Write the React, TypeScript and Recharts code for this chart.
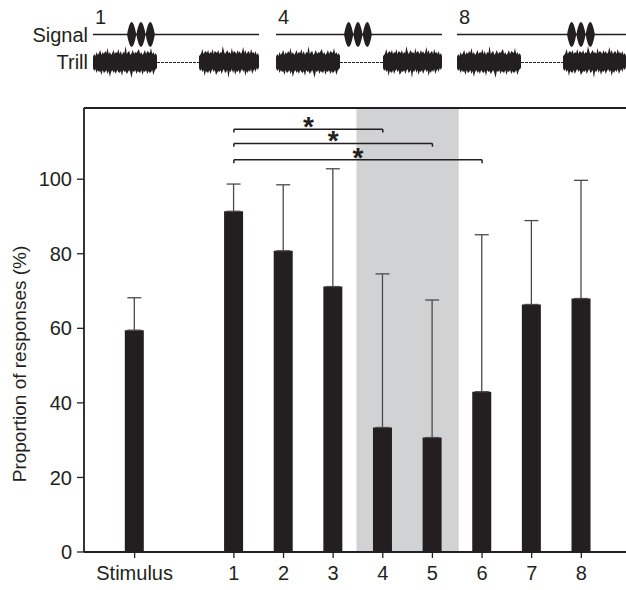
import React from "react";
import {
  BarChart, Bar, XAxis, YAxis, ErrorBar, ReferenceArea, ReferenceLine,
} from "recharts";

// stimulus slots along the x axis ("" is the empty gap after Stimulus)
const categories = ["Stimulus", "", "1", "2", "3", "4", "5", "6", "7", "8"];
const meanResponse = [59.5, null, 91.4, 80.8, 71.2, 33.4, 30.7, 43.0, 66.4, 68.0];
const sdResponse = [8.7, null, 7.3, 17.7, 31.6, 41.2, 36.9, 42.1, 22.5, 31.7];
const yTicks = [0, 20, 40, 60, 80, 100];

// significant pairwise comparisons (bracket height in % units)
const comparisons = [
  { from: "1", to: "4", level: 113.4 },
  { from: "1", to: "5", level: 109.6 },
  { from: "1", to: "6", level: 105.2 },
];
const shadedFrom = "4";
const shadedTo = "5";
const yMax = 119.1;

// hand-read trill envelope (px above / below the centre line)
const trillUpper = [5, 8, 6, 10, 7, 9, 12, 7, 10, 8, 11, 9, 14, 8, 10, 7, 9, 12, 8, 10, 9, 13, 8, 11, 7, 10, 9, 16, 8, 10, 11, 7, 9, 12, 8, 10, 9, 11, 13, 8, 10, 7, 9, 12, 8, 11, 10, 9, 14, 8, 10, 7, 9, 6];
const trillLower = [6, 9, 7, 11, 8, 10, 9, 13, 8, 11, 10, 8, 12, 9, 15, 10, 8, 11, 9, 12, 8, 10, 11, 9, 14, 8, 10, 9, 12, 10, 8, 11, 16, 9, 10, 8, 12, 9, 10, 11, 8, 13, 9, 10, 8, 12, 9, 11, 10, 8, 13, 9, 7, 6];

const INK = "#231f20";

const data = categories
  .map((name, i) => ({
    x: i,
    name,
    mean: meanResponse[i],
    err: sdResponse[i] == null ? null : [0, sdResponse[i]],
  }))
  .filter((d) => d.mean != null);

const xOf = (name: string) => categories.indexOf(name);

const panels = [
  { label: "1", x0: 93, x1: 259, pulse: 127, gap0: 157, gap1: 199 },
  { label: "4", x0: 276, x1: 442, pulse: 344, gap0: 340, gap1: 383 },
  { label: "8", x0: 457, x1: 626, pulse: 567, gap0: 521, gap1: 563 },
];

function trillPath(xa: number, xb: number, cy: number, up: number[], lo: number[]) {
  const n = up.length;
  const step = (xb - xa) / (n - 1);
  const top = up.map((a, i) => `${(xa + i * step).toFixed(1)},${cy - a}`);
  const bot = lo.map((a, i) => `${(xa + i * step).toFixed(1)},${cy + a}`).reverse();
  return "M" + top.join(" L") + " L" + bot.join(" L") + " Z";
}

function pulsePath(x: number, cy: number) {
  const w = 9.3;
  const a = 12.5;
  let d = "";
  for (let k = 0; k < 3; k++) {
    const s = x + k * w;
    const m = s + w / 2;
    d += `M${s},${cy} Q${m},${cy - 2 * a} ${s + w},${cy} Q${m},${cy + 2 * a} ${s},${cy} Z `;
  }
  return d;
}

function Header() {
  const sy = 34.5;
  const ty = 62;
  return (
    <svg width={626} height={90} style={{ position: "absolute", left: 0, top: 0 }}>
      <g fontFamily="Liberation Sans, Arial, sans-serif" fill={INK} fontSize={20}>
        <text x={88} y={sy + 7} textAnchor="end">Signal</text>
        <text x={88} y={ty + 7} textAnchor="end">Trill</text>
        {panels.map((p) => (
          <g key={p.label}>
            <text x={p.x0 + 2} y={24}>{p.label}</text>
            <line x1={p.x0} x2={p.x1} y1={sy} y2={sy} stroke={INK} strokeWidth={1.3} />
            <path d={pulsePath(p.pulse, sy)} fill={INK} />
            <path d={trillPath(p.x0, p.gap0, ty, trillUpper, trillLower)} fill={INK} />
            <line x1={p.gap0} x2={p.gap1} y1={ty + 0.5} y2={ty + 0.5} stroke={INK} strokeWidth={1} strokeDasharray="3 1" />
            <path d={trillPath(p.gap1, p.x1, ty, [...trillLower].reverse(), [...trillUpper].reverse())} fill={INK} />
          </g>
        ))}
      </g>
    </svg>
  );
}

const starLabel = (props: any) => {
  const vb = props.viewBox || {};
  return (
    <text
      x={vb.x + vb.width / 2}
      y={vb.y + 7}
      textAnchor="middle"
      fontSize={28}
      fontWeight="bold"
      fontFamily="Liberation Sans, Arial, sans-serif"
      fill={INK}
    >
      *
    </text>
  );
};

export default function App() {
  const font = "Liberation Sans, Arial, sans-serif";
  return (
    <div style={{ position: "absolute", left: 0, top: 0, width: 626, height: 590, background: "#fff" }}>
      <BarChart
        width={626}
        height={590}
        data={data}
        margin={{ top: 108, right: 0, bottom: 8, left: 0 }}
      >
        <ReferenceArea
          x1={xOf(shadedFrom) - 0.53}
          x2={xOf(shadedTo) + 0.53}
          y1={0}
          y2={yMax}
          fill="#d1d2d4"
          fillOpacity={1}
          stroke="none"
        />
        <XAxis
          dataKey="x"
          type="number"
          height={30}
          domain={[-1.02, 9.9]}
          allowDataOverflow
          ticks={data.map((d) => d.x)}
          tickFormatter={(v: number) => categories[v]}
          tick={{ fontSize: 20, fill: INK, fontFamily: font }}
          tickSize={6}
          tickMargin={8}
          axisLine={{ stroke: INK, strokeWidth: 1.8 }}
          tickLine={{ stroke: INK, strokeWidth: 1.3 }}
          interval={0}
        />
        <YAxis
          width={84}
          domain={[0, yMax]}
          ticks={yTicks}
          allowDataOverflow
          tick={{ fontSize: 20, fill: INK, fontFamily: font }}
          tickSize={7}
          tickMargin={5}
          axisLine={{ stroke: INK, strokeWidth: 1.8 }}
          tickLine={{ stroke: INK, strokeWidth: 1.3 }}
          label={{
            content: () => (
              <text
                x={26}
                y={364}
                transform="rotate(-90 26 364)"
                textAnchor="middle"
                fontSize={19}
                fill={INK}
                fontFamily={font}
              >
                Proportion of responses (%)
              </text>
            ),
          }}
        />
        <ReferenceLine y={yMax} stroke={INK} strokeWidth={2} />
        {comparisons.map((c) => (
          <ReferenceLine
            key={`h${c.to}`}
            segment={[{ x: xOf(c.from), y: c.level }, { x: xOf(c.to), y: c.level }]}
            stroke={INK}
            strokeWidth={1.5}
            label={starLabel}
          />
        ))}
        {comparisons.flatMap((c) =>
          [c.from, c.to].map((n) => (
            <ReferenceLine
              key={`v${c.to}${n}`}
              segment={[{ x: xOf(n), y: c.level }, { x: xOf(n), y: c.level - 0.9 }]}
              stroke={INK}
              strokeWidth={1.5}
            />
          ))
        )}
        <Bar dataKey="mean" fill={INK} barSize={19} isAnimationActive={false}>
          <ErrorBar dataKey="err" direction="y" width={7} stroke="#4a4a4a" strokeWidth={1.3} isAnimationActive={false} />
        </Bar>
      </BarChart>
      <Header />
    </div>
  );
}
